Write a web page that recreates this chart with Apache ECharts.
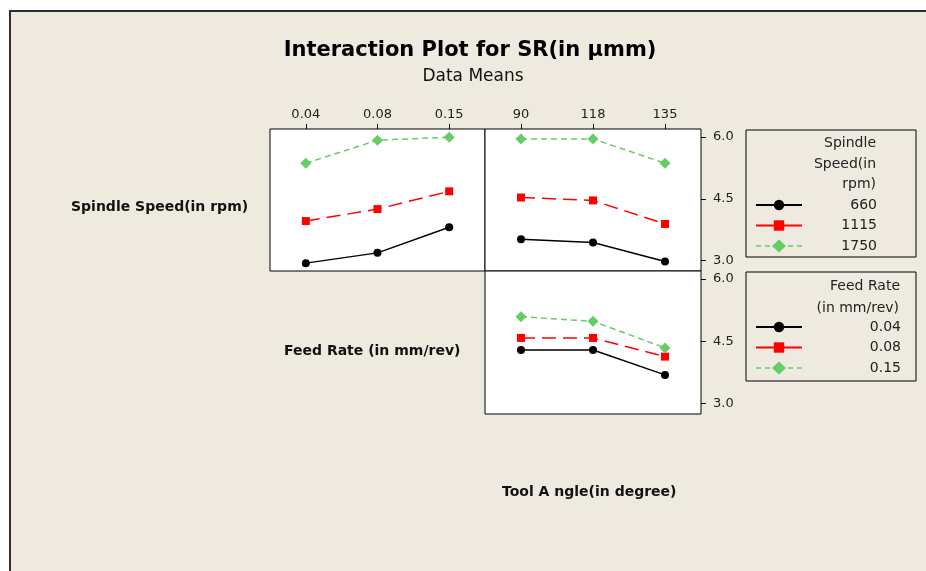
<!DOCTYPE html>
<html>
<head>
<meta charset="utf-8">
<script src="https://cdn.jsdelivr.net/npm/echarts@6/dist/echarts.min.js"></script>
<style>
html,body{margin:0;padding:0;background:#fff;}
#bg{position:absolute;left:9px;top:10px;width:917px;height:561px;background:#eeeae0;border-top:2px solid #2e2e2e;border-left:2px solid #2e2e2e;box-sizing:border-box;}
#chart{position:absolute;left:0;top:0;width:926px;height:571px;}
</style>
</head>
<body>
<div id="bg"></div>
<div id="chart"></div>
<script>
// ---- data ----
var feedRates = ['0.04', '0.08', '0.15'];
var toolAngles = ['90', '118', '135'];
var spindleSpeeds = ['660', '1115', '1750'];
var yTicks = [3.0, 4.5, 6.0];

// Spindle speed lines vs feed rate
var ss660VsFeed = [2.94, 3.19, 3.81];
var ss1115VsFeed = [3.96, 4.25, 4.68];
var ss1750VsFeed = [5.36, 5.92, 5.99];
// Spindle speed lines vs tool angle
var ss660VsAngle = [3.52, 3.44, 2.98];
var ss1115VsAngle = [4.53, 4.46, 3.89];
var ss1750VsAngle = [5.95, 5.95, 5.36];
// Feed rate lines vs tool angle
var fr004VsAngle = [4.29, 4.29, 3.69];
var fr008VsAngle = [4.58, 4.58, 4.13];
var fr015VsAngle = [5.09, 4.98, 4.34];

var FONT = 'DejaVu Sans';
var styles = [
  {color: '#000000', type: 'solid', width: 1.4, symbol: 'circle', size: 8},
  {color: '#ff0000', type: [14, 7], width: 1.5, symbol: 'rect', size: 8},
  {color: '#66cc66', type: [6, 4], width: 1.5, symbol: 'diamond', size: 11}
];
var diamondLegendIcon = 'path://M0 5.75h5v1.5h-5z M9 5.75h5v1.5h-5z M16 6.5L23 0L30 6.5L23 13z M32 5.75h5v1.5h-5z M41 5.75h5v1.5h-5z';

function mkSeries(name, data, idx, styleIdx) {
  var s = styles[styleIdx];
  return {
    name: name, type: 'line', xAxisIndex: idx, yAxisIndex: idx,
    data: data, symbol: s.symbol, symbolSize: s.size,
    itemStyle: {color: s.color},
    lineStyle: {color: s.color, type: s.type, width: s.width},
    emphasis: {disabled: true}, animation: false
  };
}

function xAx(idx, cats, show) {
  return {
    type: 'category', gridIndex: idx, data: cats, position: 'top', boundaryGap: true,
    axisLine: {show: false},
    axisTick: {show: show, alignWithLabel: true, length: 5, lineStyle: {color: '#000'}},
    axisLabel: {show: show, margin: 8, fontFamily: FONT, fontSize: 13, color: '#222'},
    splitLine: {show: false}
  };
}
function yAx(idx, show) {
  return {
    type: 'value', gridIndex: idx, min: 2.75, max: 6.19, position: 'right',
    axisLine: {show: false},
    axisTick: {show: show, length: 5, customValues: yTicks, lineStyle: {color: '#000'}},
    axisLabel: {show: show, margin: 12, customValues: yTicks, fontFamily: FONT, fontSize: 13, color: '#222',
      formatter: function (v) { return Number(v).toFixed(1); }},
    splitLine: {show: false}
  };
}

var gridBase = {show: true, backgroundColor: '#ffffff', borderColor: '#000', borderWidth: 1};

function legendCfg(names, top, w) {
  return {
    orient: 'vertical', left: 755, top: top, padding: 0,
    itemWidth: 46, itemHeight: 13, itemGap: 6.5,
    data: [
      {name: names[0]},
      {name: names[1], lineStyle: {type: 'solid'}},
      {name: names[2], icon: diamondLegendIcon}
    ],
    selectedMode: false,
    formatter: '{r|{name}}',
    textStyle: {fontFamily: FONT, fontSize: 14, color: '#222',
      rich: {r: {width: w, align: 'right', fontFamily: FONT, fontSize: 14, lineHeight: 14, color: '#222'}}}
  };
}

function txt(x, y, t, opts) {
  var st = Object.assign({text: t, fontFamily: FONT, fontSize: 14, fill: '#111', textVerticalAlign: 'middle', textAlign: 'left'}, opts || {});
  return {type: 'text', x: x, y: y, style: st, silent: true};
}

var chart = echarts.init(document.getElementById('chart'), null, {renderer: 'canvas'});
chart.setOption({
  backgroundColor: 'transparent',
  animation: false,
  grid: [
    Object.assign({left: 270, top: 129, width: 215, height: 142}, gridBase),
    Object.assign({left: 485, top: 129, width: 216, height: 142}, gridBase),
    Object.assign({left: 485, top: 271, width: 216, height: 143}, gridBase)
  ],
  xAxis: [xAx(0, feedRates, true), xAx(1, toolAngles, true), xAx(2, toolAngles, false)],
  yAxis: [yAx(0, false), yAx(1, true), yAx(2, true)],
  legend: [
    legendCfg(spindleSpeeds, 198, 70),
    legendCfg(feedRates, 320, 94)
  ],
  series: [
    mkSeries(spindleSpeeds[0], ss660VsFeed, 0, 0),
    mkSeries(spindleSpeeds[1], ss1115VsFeed, 0, 1),
    mkSeries(spindleSpeeds[2], ss1750VsFeed, 0, 2),
    mkSeries(spindleSpeeds[0], ss660VsAngle, 1, 0),
    mkSeries(spindleSpeeds[1], ss1115VsAngle, 1, 1),
    mkSeries(spindleSpeeds[2], ss1750VsAngle, 1, 2),
    mkSeries(feedRates[0], fr004VsAngle, 2, 0),
    mkSeries(feedRates[1], fr008VsAngle, 2, 1),
    mkSeries(feedRates[2], fr015VsAngle, 2, 2)
  ],
  graphic: [
    {type: 'rect', shape: {x: 746, y: 130, width: 170, height: 127}, style: {fill: 'none', stroke: '#000', lineWidth: 1}, silent: true},
    {type: 'rect', shape: {x: 746, y: 272, width: 170, height: 109}, style: {fill: 'none', stroke: '#000', lineWidth: 1}, silent: true},
    txt(470, 51, 'Interaction Plot for SR(in µmm)', {fontSize: 21, fontWeight: 'bold', textAlign: 'center', fill: '#000'}),
    txt(473, 77, 'Data Means', {fontSize: 17, textAlign: 'center', fill: '#111'}),
    txt(71, 207, 'Spindle Speed(in rpm)', {fontWeight: 'bold'}),
    txt(284, 351, 'Feed Rate (in mm/rev)', {fontWeight: 'bold'}),
    txt(502, 492, 'Tool A ngle(in degree)', {fontWeight: 'bold'}),
    txt(876, 143, 'Spindle', {textAlign: 'right', fill: '#222'}),
    txt(876, 164, 'Speed(in', {textAlign: 'right', fill: '#222'}),
    txt(876, 184, 'rpm)', {textAlign: 'right', fill: '#222'}),
    txt(900, 286, 'Feed Rate', {textAlign: 'right', fill: '#222'}),
    txt(899, 308, '(in mm/rev)', {textAlign: 'right', fill: '#222'})
  ]
});
</script>
</body>
</html>
